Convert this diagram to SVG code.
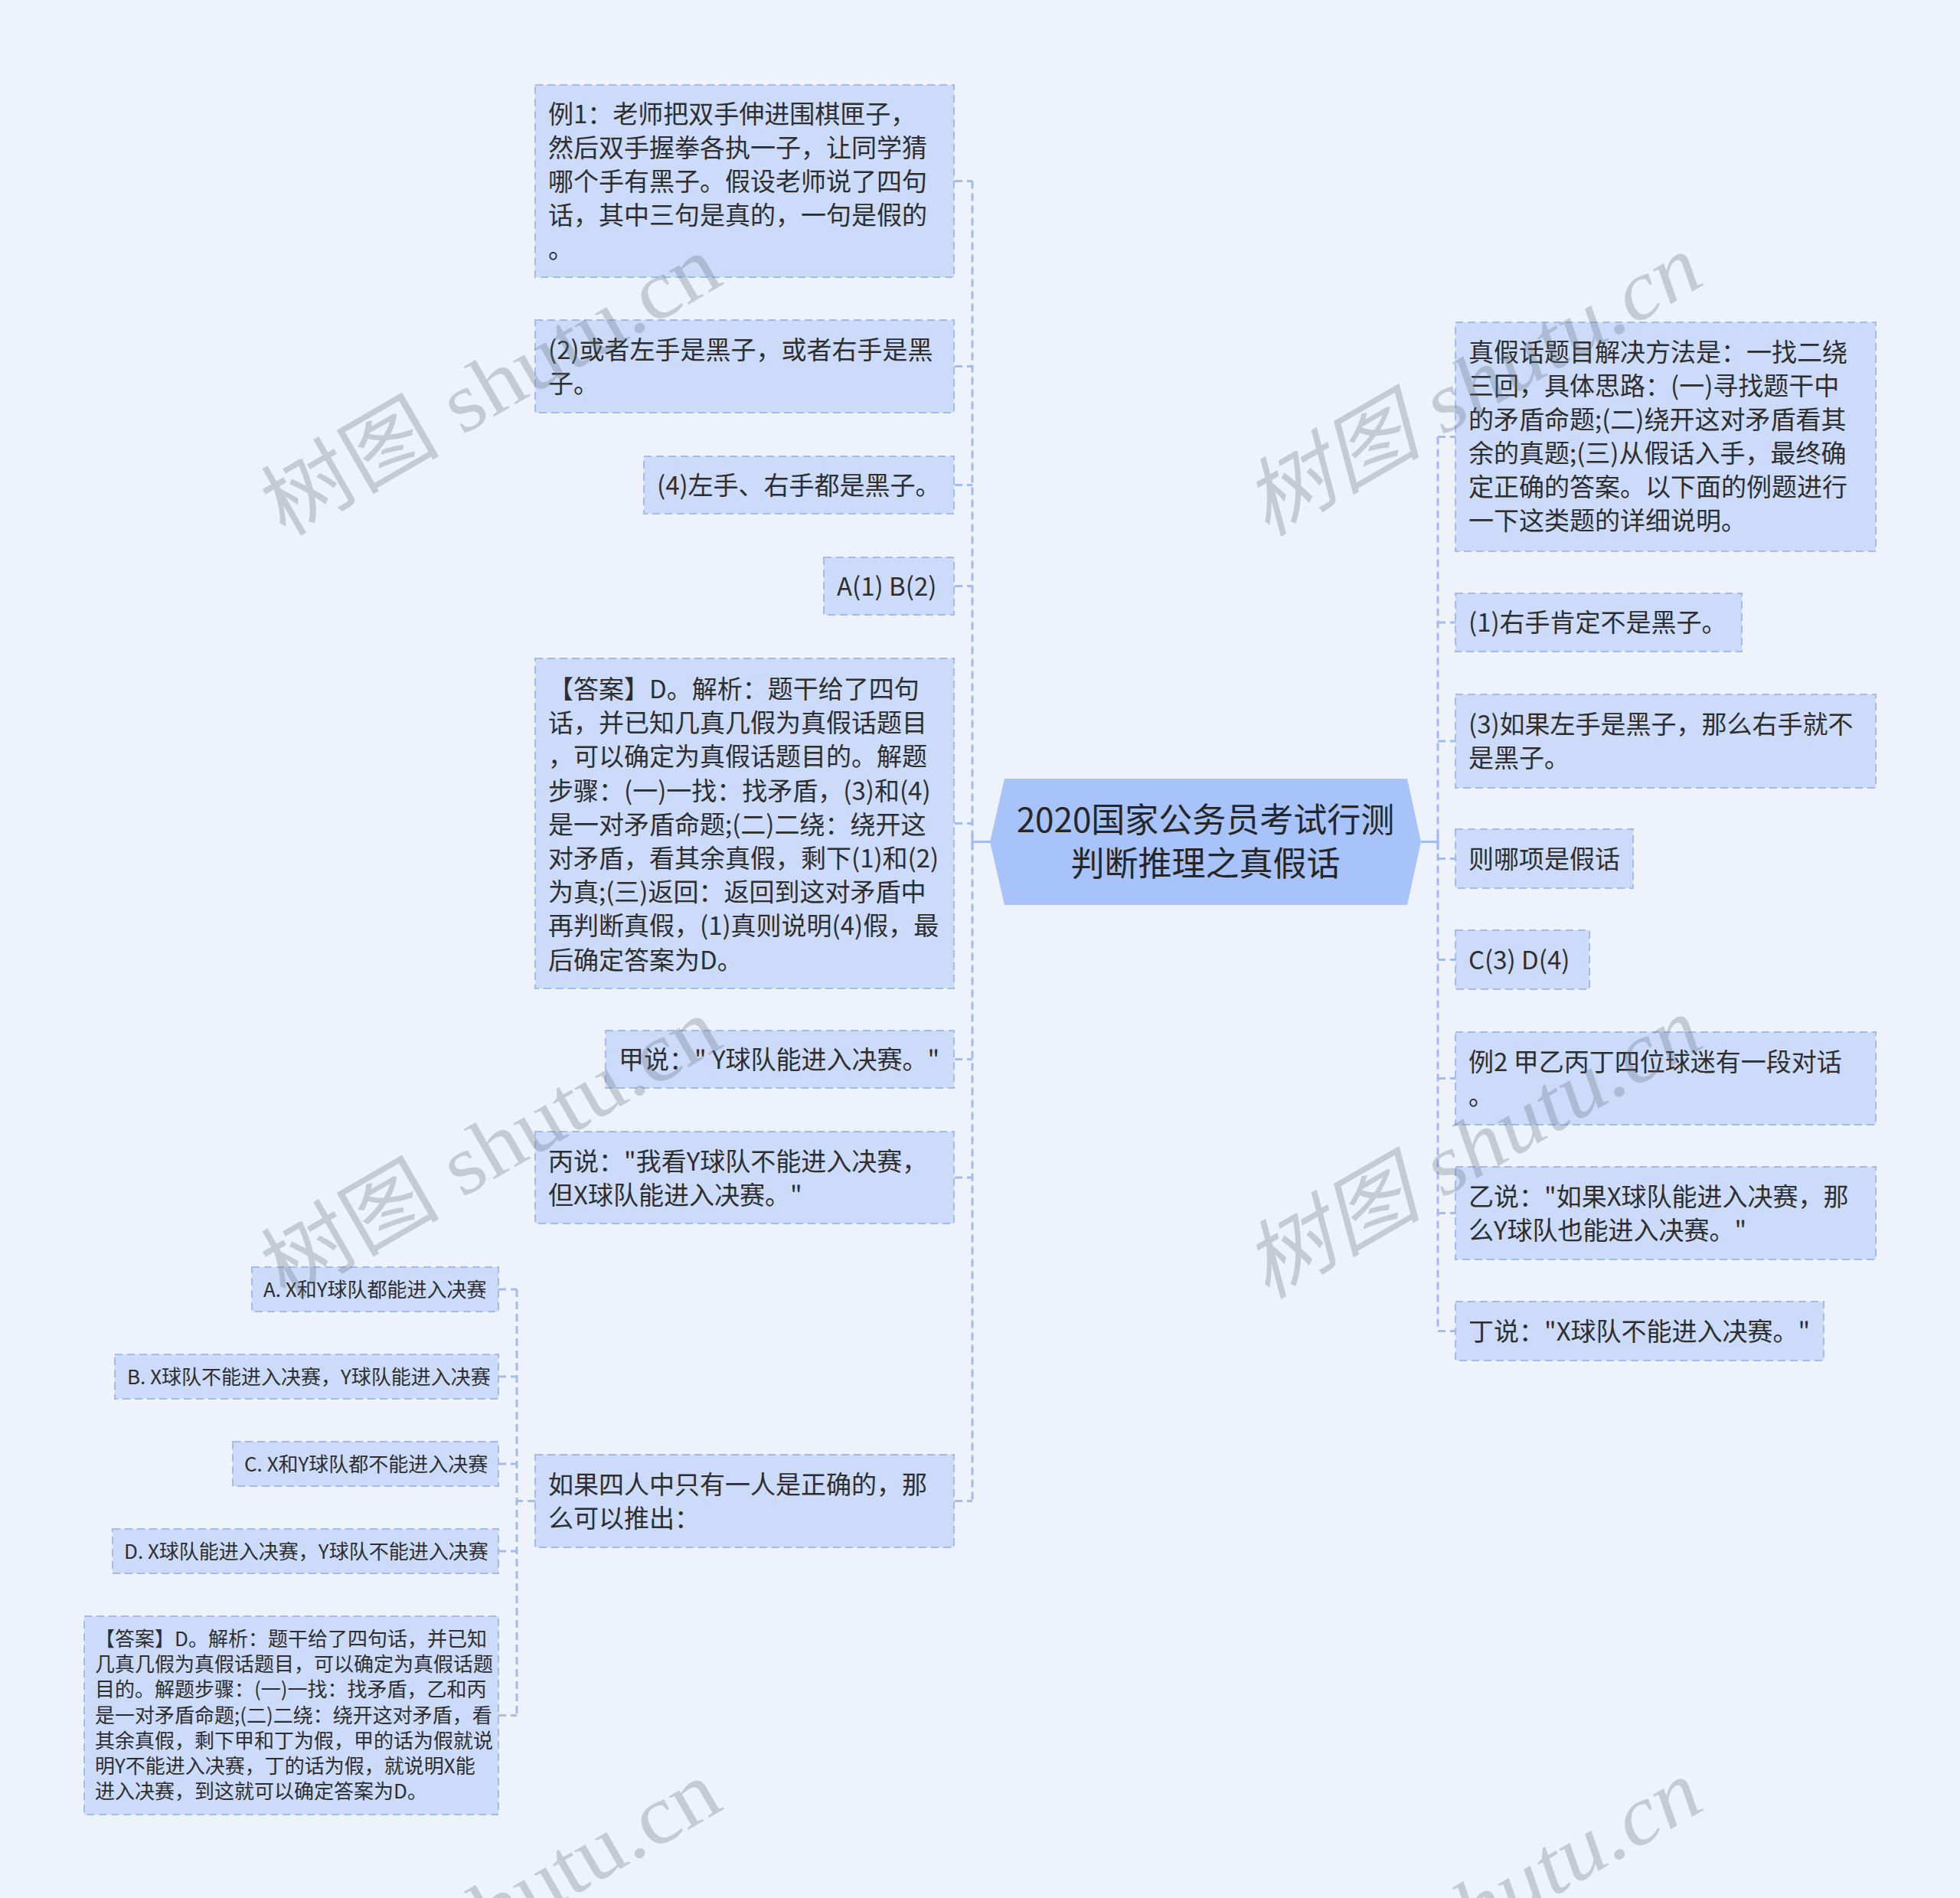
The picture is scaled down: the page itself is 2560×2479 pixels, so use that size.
<svg xmlns="http://www.w3.org/2000/svg" width="2560" height="2479" viewBox="0 0 2560 2479">
<defs>
<style>
.bg{fill:#eef3fb}
.box{fill:#ccdbfa;stroke:#a3bcf0;stroke-width:2;stroke-dasharray:10 6}
.t{font-family:"Noto Sans CJK SC","Noto Sans",sans-serif;font-size:33px;fill:#2e2e2e}
.s{font-family:"Noto Sans CJK SC","Noto Sans",sans-serif;font-size:26px;fill:#2e2e2e}
.ct{font-family:"Noto Sans CJK SC","Noto Sans",sans-serif;font-size:44px;fill:#262626;text-anchor:middle}
.dash{fill:none;stroke:#a3bcf0;stroke-width:3;stroke-dasharray:10 6}
.solid{fill:none;stroke:#a3bcf0;stroke-width:3}
.wm{font-family:"Liberation Serif","Noto Sans CJK SC",serif;font-size:110px;fill:#64707f;fill-opacity:0.3}
</style>
</defs>
<rect class="bg" x="0" y="0" width="2560" height="2479"/>

<g id="connectors">
<path class="solid" d="M1293 1099.5H1270M1270 1089V1110"/>
<path class="dash" d="M1270 236.5V1960.5"/>
<path class="dash" d="M1247 236.5H1270M1247 478.5H1270M1247 633.5H1270M1247 765.5H1270M1247 1075.5H1270M1247 1383.5H1270M1247 1538H1270M1247 1960.5H1270"/>
<path class="dash" d="M699 1960.5H675M675 1684V2240.5"/>
<path class="dash" d="M651 1684H675M651 1798H675M651 1912H675M651 2026H675M651 2240.5H675"/>
<path class="solid" d="M1856 1099.5H1878M1878 1089V1110"/>
<path class="dash" d="M1878 570.5V1738.5"/>
<path class="dash" d="M1878 570.5H1901M1878 813H1901M1878 968H1901M1878 1121.5H1901M1878 1253.5H1901M1878 1408.5H1901M1878 1584.5H1901M1878 1738.5H1901"/>
</g>

<g id="root">
<polygon points="1293,1099.5 1312,1017 1838,1017 1856,1099.5 1838,1182 1312,1182" fill="#a8c3fa"/>
<text class="ct" x="1574.5" y="1087">2020国家公务员考试行测</text>
<text class="ct" x="1574.5" y="1144">判断推理之真假话</text>
</g>

<g id="L1">
<rect class="box" x="699" y="111" width="547" height="251"/>
<text class="t"><tspan x="716" y="161">例1：老师把双手伸进围棋匣子，</tspan><tspan x="716" y="205">然后双手握拳各执一子，让同学猜</tspan><tspan x="716" y="249">哪个手有黑子。假设老师说了四句</tspan><tspan x="716" y="293">话，其中三句是真的，一句是假的</tspan><tspan x="716" y="337">。</tspan></text>
</g>
<g id="L2">
<rect class="box" x="699" y="418" width="547" height="121"/>
<text class="t"><tspan x="716" y="469">(2)或者左手是黑子，或者右手是黑</tspan><tspan x="716" y="513">子。</tspan></text>
</g>
<g id="L3">
<rect class="box" x="841" y="596" width="405" height="75"/>
<text class="t" x="858" y="646">(4)左手、右手都是黑子。</text>
</g>
<g id="L4">
<rect class="box" x="1076" y="728" width="170" height="75"/>
<text class="t" x="1093" y="778">A(1) B(2)</text>
</g>
<g id="L5">
<rect class="box" x="699" y="860" width="547" height="431"/>
<text class="t"><tspan x="716" y="912">【答案】D。解析：题干给了四句</tspan><tspan x="716" y="956">话，并已知几真几假为真假话题目</tspan><tspan x="716" y="1000">，可以确定为真假话题目的。解题</tspan><tspan x="716" y="1045">步骤：(一)一找：找矛盾，(3)和(4)</tspan><tspan x="716" y="1089">是一对矛盾命题;(二)二绕：绕开这</tspan><tspan x="716" y="1133">对矛盾，看其余真假，剩下(1)和(2)</tspan><tspan x="716" y="1177">为真;(三)返回：返回到这对矛盾中</tspan><tspan x="716" y="1221">再判断真假，(1)真则说明(4)假，最</tspan><tspan x="716" y="1266">后确定答案为D。</tspan></text>
</g>
<g id="L6">
<rect class="box" x="791" y="1346" width="455" height="75"/>
<text class="t" x="808" y="1396">甲说：" Y球队能进入决赛。"</text>
</g>
<g id="L7">
<rect class="box" x="699" y="1478" width="547" height="120"/>
<text class="t"><tspan x="716" y="1529">丙说："我看Y球队不能进入决赛，</tspan><tspan x="716" y="1573">但X球队能进入决赛。"</tspan></text>
</g>
<g id="L8">
<rect class="box" x="699" y="1900" width="547" height="121"/>
<text class="t"><tspan x="716" y="1951">如果四人中只有一人是正确的，那</tspan><tspan x="716" y="1995">么可以推出：</tspan></text>
</g>

<g id="A">
<rect class="box" x="329" y="1655" width="322" height="58"/>
<text class="s" x="344" y="1694">A. X和Y球队都能进入决赛</text>
</g>
<g id="B">
<rect class="box" x="150" y="1769" width="501" height="58"/>
<text class="s" x="166" y="1808">B. X球队不能进入决赛，Y球队能进入决赛</text>
</g>
<g id="C">
<rect class="box" x="304" y="1883" width="347" height="58"/>
<text class="s" x="319" y="1922">C. X和Y球队都不能进入决赛</text>
</g>
<g id="D">
<rect class="box" x="147" y="1997" width="504" height="58"/>
<text class="s" x="162" y="2036">D. X球队能进入决赛，Y球队不能进入决赛</text>
</g>
<g id="E">
<rect class="box" x="110" y="2111" width="541" height="259"/>
<text class="s"><tspan x="124" y="2150">【答案】D。解析：题干给了四句话，并已知</tspan><tspan x="124" y="2183">几真几假为真假话题目，可以确定为真假话题</tspan><tspan x="124" y="2216">目的。解题步骤：(一)一找：找矛盾，乙和丙</tspan><tspan x="124" y="2250">是一对矛盾命题;(二)二绕：绕开这对矛盾，看</tspan><tspan x="124" y="2283">其余真假，剩下甲和丁为假，甲的话为假就说</tspan><tspan x="124" y="2316">明Y不能进入决赛，丁的话为假，就说明X能</tspan><tspan x="124" y="2349">进入决赛，到这就可以确定答案为D。</tspan></text>
</g>

<g id="R1">
<rect class="box" x="1901" y="421" width="549" height="299"/>
<text class="t"><tspan x="1918" y="472">真假话题目解决方法是：一找二绕</tspan><tspan x="1918" y="516">三回，具体思路：(一)寻找题干中</tspan><tspan x="1918" y="560">的矛盾命题;(二)绕开这对矛盾看其</tspan><tspan x="1918" y="604">余的真题;(三)从假话入手，最终确</tspan><tspan x="1918" y="648">定正确的答案。以下面的例题进行</tspan><tspan x="1918" y="692">一下这类题的详细说明。</tspan></text>
</g>
<g id="R2">
<rect class="box" x="1901" y="775" width="374" height="76"/>
<text class="t" x="1918" y="825">(1)右手肯定不是黑子。</text>
</g>
<g id="R3">
<rect class="box" x="1901" y="907" width="549" height="122"/>
<text class="t"><tspan x="1918" y="958">(3)如果左手是黑子，那么右手就不</tspan><tspan x="1918" y="1002">是黑子。</tspan></text>
</g>
<g id="R4">
<rect class="box" x="1901" y="1083" width="232" height="77"/>
<text class="t" x="1918" y="1134">则哪项是假话</text>
</g>
<g id="R5">
<rect class="box" x="1901" y="1215" width="175" height="77"/>
<text class="t" x="1918" y="1266">C(3) D(4)</text>
</g>
<g id="R6">
<rect class="box" x="1901" y="1348" width="549" height="121"/>
<text class="t"><tspan x="1918" y="1399">例2 甲乙丙丁四位球迷有一段对话</tspan><tspan x="1918" y="1443">。</tspan></text>
</g>
<g id="R7">
<rect class="box" x="1901" y="1524" width="549" height="121"/>
<text class="t"><tspan x="1918" y="1575">乙说："如果X球队能进入决赛，那</tspan><tspan x="1918" y="1619">么Y球队也能进入决赛。"</tspan></text>
</g>
<g id="R8">
<rect class="box" x="1901" y="1700" width="481" height="77"/>
<text class="t" x="1918" y="1751">丁说："X球队不能进入决赛。"</text>
</g>

<g id="watermarks">
<text class="wm" x="372" y="702" textLength="665" lengthAdjust="spacingAndGlyphs" transform="rotate(-30 372 702)">树图 shutu.cn</text>
<text class="wm" x="372" y="1698" textLength="665" lengthAdjust="spacingAndGlyphs" transform="rotate(-30 372 1698)">树图 shutu.cn</text>
<text class="wm" x="372" y="2694" textLength="665" lengthAdjust="spacingAndGlyphs" transform="rotate(-30 372 2694)">树图 shutu.cn</text>
<text class="wm" x="1654" y="702" font-style="italic" textLength="665" lengthAdjust="spacingAndGlyphs" transform="rotate(-30 1654 702)">树图 shutu.cn</text>
<text class="wm" x="1654" y="1698" font-style="italic" textLength="665" lengthAdjust="spacingAndGlyphs" transform="rotate(-30 1654 1698)">树图 shutu.cn</text>
<text class="wm" x="1654" y="2694" font-style="italic" textLength="665" lengthAdjust="spacingAndGlyphs" transform="rotate(-30 1654 2694)">树图 shutu.cn</text>
</g>
</svg>
